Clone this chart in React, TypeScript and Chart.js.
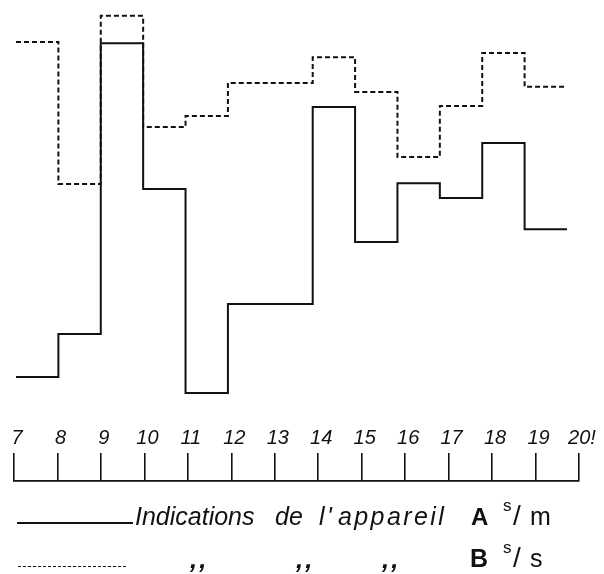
import React, { useEffect, useRef } from "react";
import { Chart, registerables } from "chart.js";

Chart.register(...registerables);

// Hours (x axis) and tick labels
const hours = [7, 8, 9, 10, 11, 12, 13, 14, 15, 16, 17, 18, 19, 20];
const tickLabels = ["7", "8", "9", "10", "11", "12", "13", "14", "15", "16", "17", "18", "19", "20!"];

// Hourly readings (one value per hour 7..19), arbitrary relative units
const seriesA = [5.9, 16.9, 91.5, 54.1, 1.8, 24.6, 24.6, 75.1, 40.5, 55.6, 51.8, 65.9, 43.8];
const seriesB = [91.8, 55.4, 98.5, 70.0, 72.8, 81.3, 81.3, 87.9, 79.0, 62.3, 75.4, 89.0, 80.3];

const INK = "#111";

function toSteps(vals: number[]) {
  return hours.map((h, i) => ({ x: h, y: vals[Math.min(i, vals.length - 1)] }));
}

function DataChart() {
  const ref = useRef<HTMLCanvasElement | null>(null);
  useEffect(() => {
    if (!ref.current) return;
    const chart = new Chart(ref.current, {
      type: "line",
      data: {
        datasets: [
          {
            label: "A",
            data: toSteps(seriesA),
            stepped: true,
            borderColor: INK,
            borderWidth: 2,
            pointRadius: 0,
            fill: false,
            clip: false,
          } as any,
          {
            label: "B",
            data: toSteps(seriesB),
            stepped: true,
            borderColor: INK,
            borderWidth: 2,
            borderDash: [5, 3],
            pointRadius: 0,
            fill: false,
            clip: false,
          } as any,
        ],
      },
      options: {
        animation: false,
        responsive: false,
        events: [],
        layout: { padding: { left: 16, right: 37, top: 10, bottom: 20 } },
        plugins: { legend: { display: false }, tooltip: { enabled: false } },
        scales: {
          x: { type: "linear", min: 7, max: 20, display: false },
          y: { min: 0, max: 100, display: false },
        },
      },
    });
    return () => chart.destroy();
  }, []);
  return (
    <canvas
      ref={ref}
      width={604}
      height={420}
      style={{ position: "absolute", left: 0, top: 0, width: 604, height: 420 }}
    />
  );
}

function AxisChart() {
  const ref = useRef<HTMLCanvasElement | null>(null);
  useEffect(() => {
    if (!ref.current) return;
    const chart = new Chart(ref.current, {
      type: "line",
      data: { datasets: [] },
      options: {
        animation: false,
        responsive: false,
        events: [],
        layout: { padding: { left: 14, right: 25, top: 0, bottom: 10 } },
        plugins: { legend: { display: false }, tooltip: { enabled: false } },
        scales: {
          x: {
            type: "linear",
            position: "top",
            min: 7,
            max: 20,
            afterFit: (s: any) => {
              s.height = 81;
            },
            afterBuildTicks: (s: any) => {
              s.ticks = hours.map((v) => ({ value: v }));
            },
            ticks: {
              autoSkip: false,
              maxRotation: 0,
              padding: 3,
              labelOffset: 3,
              color: INK,
              font: { family: "Liberation Sans", size: 20, style: "italic" },
              callback: (v: any) => {
                const i = hours.indexOf(Number(v));
                return i >= 0 ? tickLabels[i] : "";
              },
            },
            grid: { drawOnChartArea: false, drawTicks: true, tickLength: 28, color: INK, lineWidth: 1.6 },
            border: { display: true, color: INK, width: 1.8 },
          } as any,
          y: { display: false, min: 0, max: 1 },
        },
      },
    });
    return () => chart.destroy();
  }, []);
  return (
    <canvas
      ref={ref}
      width={604}
      height={100}
      style={{ position: "absolute", left: 0, top: 400, width: 604, height: 100 }}
    />
  );
}

const txt = (left: number, top: number, size: number, extra: React.CSSProperties = {}): React.CSSProperties => ({
  position: "absolute",
  left,
  top,
  fontSize: size,
  lineHeight: 1,
  fontFamily: "'Liberation Sans', sans-serif",
  color: INK,
  whiteSpace: "nowrap",
  ...extra,
});

function Legend() {
  const it: React.CSSProperties = { fontStyle: "italic" };
  const ditto: React.CSSProperties = { fontWeight: "bold", fontStyle: "italic", letterSpacing: 2 };
  return (
    <>
      {/* row A */}
      <div style={{ position: "absolute", left: 17, top: 522, width: 116, height: 2, background: INK }} />
      <div style={txt(135, 504, 25, it)}>Indications</div>
      <div style={txt(275, 504, 25, it)}>de</div>
      <div style={txt(319, 504, 25, it)}>l</div>
      <div style={txt(327, 504, 25, it)}>'</div>
      <div style={txt(338, 504, 25, { ...it, letterSpacing: 2.4 })}>appareil</div>
      <div style={txt(471, 505, 24, { fontWeight: "bold" })}>A</div>
      <div style={txt(503, 497, 17)}>s</div>
      <div style={txt(513, 502, 28)}>/</div>
      <div style={txt(530, 504, 25)}>m</div>
      {/* row B */}
      <div
        style={{
          position: "absolute",
          left: 18,
          top: 566,
          width: 108,
          height: 0,
          borderTop: "1.5px dashed " + INK,
        }}
      />
      <div style={txt(190, 546, 26, ditto)}>,,</div>
      <div style={txt(296, 546, 26, ditto)}>,,</div>
      <div style={txt(382, 546, 26, ditto)}>,,</div>
      <div style={txt(470, 546, 25, { fontWeight: "bold" })}>B</div>
      <div style={txt(503, 539, 17)}>s</div>
      <div style={txt(513, 544, 28)}>/</div>
      <div style={txt(530, 546, 25)}>s</div>
    </>
  );
}

export default function App() {
  return (
    <div
      style={{
        position: "absolute",
        left: 0,
        top: 0,
        width: 604,
        height: 574,
        background: "#fff",
        overflow: "hidden",
      }}
    >
      <DataChart />
      <AxisChart />
      <Legend />
    </div>
  );
}
